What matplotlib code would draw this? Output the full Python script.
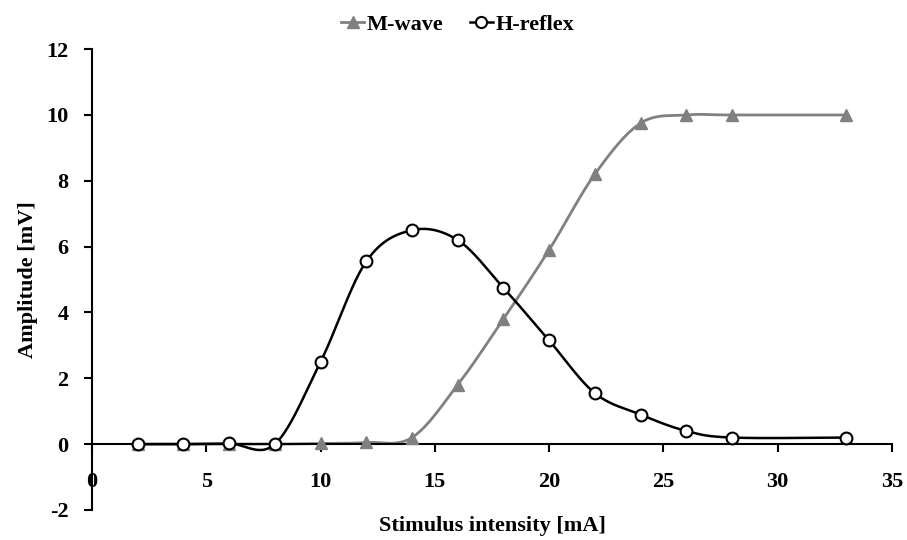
import numpy as np
import matplotlib
matplotlib.use("Agg")
import matplotlib.pyplot as plt
from matplotlib.lines import Line2D

plt.rcParams['font.family'] = ['Liberation Serif', 'DejaVu Serif']
plt.rcParams['font.weight'] = 'bold'
plt.rcParams['axes.unicode_minus'] = False

# stimulus intensity [mA]
intensity = [2, 4, 6, 8, 10, 12, 14, 16, 18, 20, 22, 24, 26, 28, 33]
# amplitudes [mV]
m_wave = [0.0, 0.0, 0.0, 0.0, 0.02, 0.05, 0.2, 1.8, 3.8, 5.9, 8.2, 9.75, 10.0, 10.0, 10.0]
h_reflex = [0.0, 0.0, 0.02, 0.0, 2.5, 5.55, 6.5, 6.2, 4.75, 3.15, 1.55, 0.9, 0.4, 0.2, 0.2]


def smooth(xs, ys, n=40):
    # Catmull-Rom style bezier smoothing between consecutive points
    x = np.asarray(xs, float)
    y = np.asarray(ys, float)
    px = np.concatenate([[x[0]], x, [x[-1]]])
    py = np.concatenate([[y[0]], y, [y[-1]]])
    out_x, out_y = [], []
    t = np.linspace(0, 1, n)
    for i in range(1, len(px) - 2):
        p0 = np.array([px[i], py[i]])
        p3 = np.array([px[i + 1], py[i + 1]])
        p1 = p0 + (np.array([px[i + 1], py[i + 1]]) - np.array([px[i - 1], py[i - 1]])) / 6
        p2 = p3 - (np.array([px[i + 2], py[i + 2]]) - np.array([px[i], py[i]])) / 6
        b = ((1 - t) ** 3)[:, None] * p0 + (3 * (1 - t) ** 2 * t)[:, None] * p1 \
            + (3 * (1 - t) * t ** 2)[:, None] * p2 + (t ** 3)[:, None] * p3
        out_x.extend(b[:, 0])
        out_y.extend(b[:, 1])
    return np.array(out_x), np.array(out_y)


fig = plt.figure(figsize=(9.07, 5.40), dpi=100)
ax = fig.add_axes([0.1014, 0.0556, 0.882, 0.8534])

mx, my = smooth(intensity, m_wave)
hx, hy = smooth(intensity, h_reflex)

gray = '#808080'
ax.plot(mx, my, color=gray, lw=2, zorder=2)
ax.plot(intensity, m_wave, ls='none', marker='^', ms=8, color=gray, zorder=3)
ax.plot(hx, hy, color='black', lw=1.8, zorder=4)
ax.plot(intensity, h_reflex, ls='none', marker='o', ms=8.5, mfc='white',
        mec='black', mew=1.5, zorder=5)

ax.set_xlim(0, 35)
ax.set_ylim(-2, 12)
ax.set_xticks(np.arange(0, 36, 5))
ax.set_yticks(np.arange(-2, 13, 2))

ax.spines['top'].set_visible(False)
ax.spines['right'].set_visible(False)
ax.spines['bottom'].set_position(('data', 0))
ax.spines['left'].set_linewidth(1.5)
ax.spines['bottom'].set_linewidth(1.5)
ax.tick_params(axis='both', direction='out', length=6, width=1.5, labelsize=16)
ax.tick_params(axis='x', pad=14)
ax.tick_params(axis='y', pad=11)
for lab in ax.get_xticklabels() + ax.get_yticklabels():
    lab.set_fontweight('bold')

ax.set_xlabel('Stimulus intensity [mA]', fontsize=16, fontweight='bold')
ax.xaxis.set_label_coords(0.5, -0.012)
ax.set_ylabel('Amplitude [mV]', fontsize=16, fontweight='bold')
ax.yaxis.set_label_coords(-0.068, 0.5)

handles = [
    Line2D([], [], color=gray, lw=2, marker='^', ms=8),
    Line2D([], [], color='black', lw=1.8, marker='o', ms=8, mfc='white', mec='black', mew=1.5),
]
fig.legend(handles, ['M-wave', 'H-reflex'], loc='upper center', bbox_to_anchor=(0.505, 1.01),
           ncol=2, frameon=False, handlelength=1.0, handletextpad=0.15, columnspacing=1.2,
           prop={'size': 16, 'weight': 'bold'})

fig.savefig('out.png', dpi=100)
